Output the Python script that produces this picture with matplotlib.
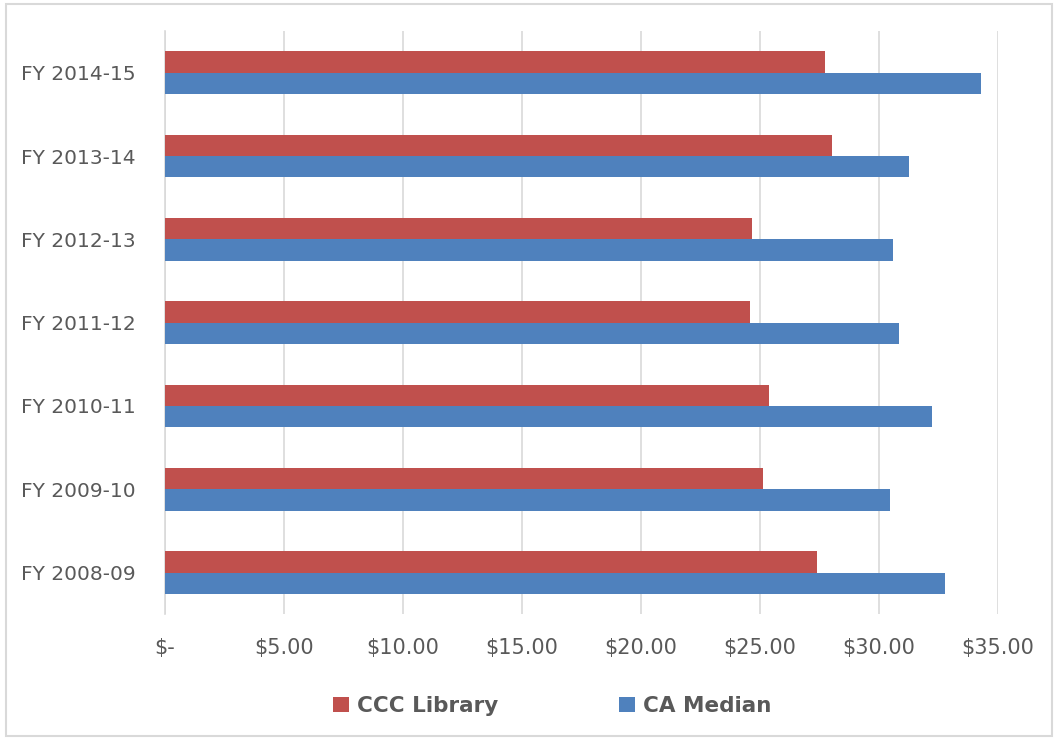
import matplotlib
matplotlib.use("Agg")
import matplotlib.pyplot as plt
from matplotlib.patches import Rectangle
import numpy as np

# data
years = ["FY 2008-09", "FY 2009-10", "FY 2010-11", "FY 2011-12",
         "FY 2012-13", "FY 2013-14", "FY 2014-15"]
ccc_library = [27.41, 25.15, 25.39, 24.59, 24.68, 28.04, 27.73]
ca_median = [32.79, 30.46, 32.24, 30.85, 30.62, 31.26, 34.31]
xticks = [0, 5, 10, 15, 20, 25, 30, 35]
xticklabels = ["$-", "$5.00", "$10.00", "$15.00", "$20.00", "$25.00", "$30.00", "$35.00"]

red = "#C0504D"
blue = "#4F81BD"
grey_text = "#595959"
plt.rcParams['font.family'] = ['DejaVu Sans']

fig = plt.figure(figsize=(10.58, 7.4), dpi=100)
ax = fig.add_axes([0.156, 0.170, 0.787, 0.788])

y = np.arange(len(years))
h = 0.256
ax.barh(y + h / 2, ccc_library, height=h, color=red, label="CCC Library", zorder=3)
ax.barh(y - h / 2, ca_median, height=h, color=blue, label="CA Median", zorder=3)

ax.set_xlim(0, 35)
ax.set_ylim(-0.5, len(years) - 0.5)
ax.set_xticks(xticks)
ax.set_xticklabels(xticklabels, fontsize=15, color=grey_text)
ax.set_yticks(y)
ax.set_yticklabels(years, fontsize=14.5, color=grey_text)
ax.tick_params(axis='both', length=0)
ax.tick_params(axis='x', pad=17)
ax.tick_params(axis='y', pad=21)
ax.grid(axis='x', color="#D9D9D9", linewidth=1.2, zorder=0)
for s in ["top", "right", "bottom"]:
    ax.spines[s].set_visible(False)
ax.spines["left"].set_color("#D9D9D9")
ax.spines["left"].set_linewidth(1.2)

fig.legend(loc="center", bbox_to_anchor=(0.522, 0.046), ncol=2, frameon=False,
           handlelength=0.75, handleheight=0.75, handletextpad=0.37,
           columnspacing=5.6, labelcolor=grey_text,
           prop={'weight': 'bold', 'size': 15.5})

# chart frame
fig.patches.append(Rectangle((0.006, 0.006), 0.988, 0.988, transform=fig.transFigure,
                             fill=False, edgecolor="#D9D9D9", linewidth=1.5))

fig.savefig("out.png", dpi=100)
